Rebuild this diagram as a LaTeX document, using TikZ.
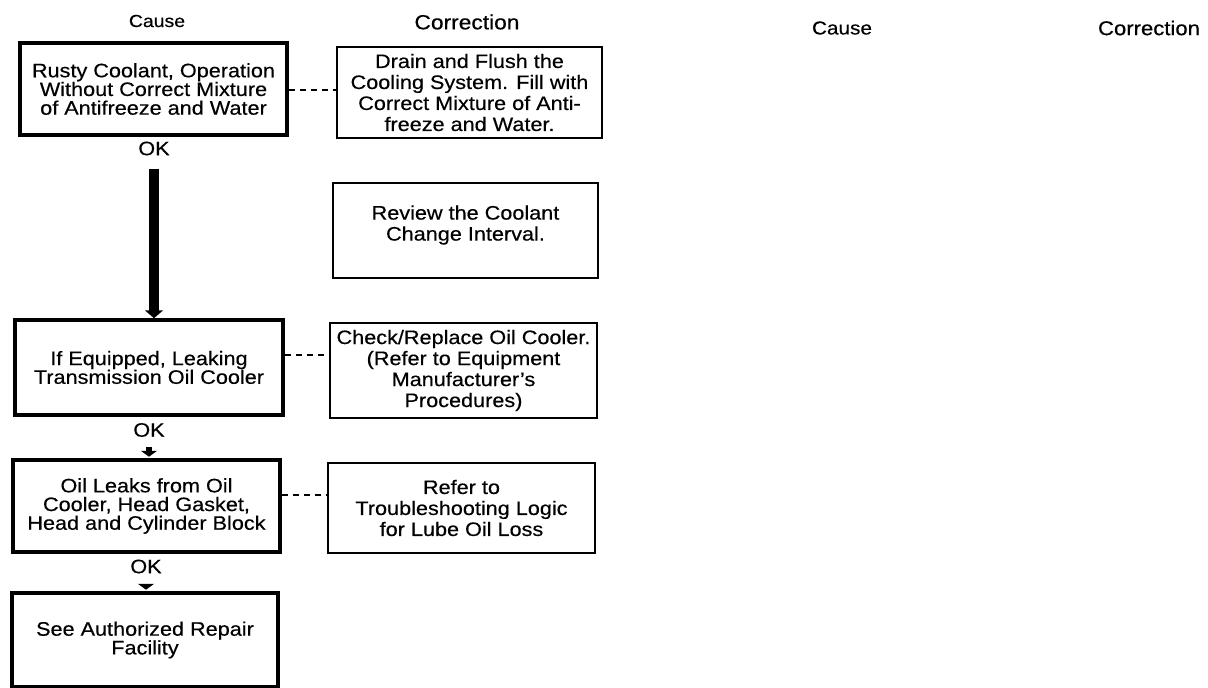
\documentclass[tikz,border=0pt]{standalone}
\usepackage{fontspec}
\setmainfont[FakeStretch=1.11,FakeBold=0.4]{Liberation Sans}
\usetikzlibrary{arrows.meta}
\lineskiplimit=-20pt
\begin{document}
\begin{tikzpicture}[x=1pt,y=-1pt,
  causebox/.style={draw, line width=3.5pt, align=center, inner sep=0pt,
    font=\fontsize{19.5}{18.7}\selectfont},
  corrbox/.style={draw, line width=1.8pt, align=center, inner sep=0pt,
    font=\fontsize{19.5}{21}\selectfont},
  oklabel/.style={inner sep=0pt, font=\fontsize{19.5}{19.5}\selectfont},
  hdr/.style={inner sep=0pt},
  link/.style={dash pattern=on 6pt off 5pt, line width=1.8pt},
  bigarrow/.style={line width=10pt, -{Triangle[width=18pt,length=8pt]}},
  smallarrow/.style={line width=6pt, -{Triangle[width=16pt,length=6pt]}}
]
\useasboundingbox (0,0) rectangle (1208,688);

% headers
\node[hdr, font=\fontsize{17.5}{17.5}\selectfont] (hc1) at (157,21) {Cause};
\node[hdr, font=\fontsize{20.5}{20.5}\selectfont] (hr1) at (467,22) {Correction};
\node[hdr, font=\fontsize{18.7}{18.7}\selectfont] (hc2) at (842,28) {Cause};
\node[hdr, font=\fontsize{19.9}{19.9}\selectfont] (hr2) at (1149,28) {Correction};

% cause boxes
\node[causebox, minimum width=267pt, minimum height=92pt] (A1) at (153.5,89)
  {Rusty Coolant, Operation\\Without Correct Mixture\\of Antifreeze and Water};
\node[causebox, minimum width=268pt, minimum height=95pt] (A2) at (149,367.5)
  {If Equipped, Leaking\\Transmission Oil Cooler};
\node[causebox, minimum width=267pt, minimum height=92pt] (A3) at (146.5,506)
  {Oil Leaks from Oil\\Cooler, Head Gasket,\\Head and Cylinder Block};
\node[causebox, minimum width=266pt, minimum height=94pt] (A4) at (145,640)
  {See Authorized Repair\\Facility};

% correction boxes
\node[corrbox, minimum width=265pt, minimum height=91pt] (C1) at (469.5,92.5)
  {Drain and Flush the\\Cooling System. Fill with\\Correct Mixture of Anti-\\freeze and Water.};
\node[corrbox, minimum width=265pt, minimum height=95pt] (C2) at (465.5,230.5)
  {Review the Coolant\\Change Interval.\\[-6pt]\mbox{}};
\node[corrbox, minimum width=267pt, minimum height=95pt] (C3) at (463.5,370.5)
  {Check/Replace Oil Cooler.\\(Refer to Equipment\\Manufacturer's\\Procedures)};
\node[corrbox, minimum width=267pt, minimum height=90pt] (C4) at (461.5,508)
  {Refer to\\Troubleshooting Logic\\for Lube Oil Loss};

% OK labels
\node[oklabel] (OK1) at (154,148.5) {OK};
\node[oklabel] (OK2) at (149,430) {OK};
\node[oklabel] (OK3) at (146,566.5) {OK};

% arrows
\draw[bigarrow] ([yshift=-13pt]OK1.south) -- (OK1.south |- A2.north);
\draw[smallarrow] ([yshift=-10pt]OK2.south) -- ([yshift=1.5pt]OK2.south |- A3.north);
\draw[smallarrow] ([yshift=-13pt]OK3.south) -- ([yshift=1.5pt]OK3.south |- A4.north);

% dashed links
\draw[link] ([yshift=-1pt]A1.east) -- ([yshift=-1pt]A1.east -| C1.west);
\draw[link] ([yshift=12.5pt]A2.east) -- ([yshift=12.5pt]A2.east -| C3.west);
\draw[link] ([yshift=11pt]A3.east) -- ([yshift=11pt]A3.east -| C4.west);
\end{tikzpicture}
\end{document}
